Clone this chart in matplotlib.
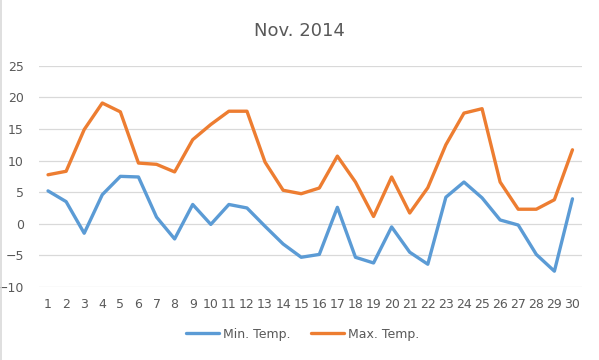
import matplotlib.pyplot as plt
from matplotlib.lines import Line2D

days = list(range(1, 31))
min_temp = [5.2, 3.5, -1.5, 4.6, 7.5, 7.4, 1.05, -2.4, 3.05, -0.1,
            3.05, 2.5, -0.4, -3.2, -5.3, -4.85, 2.6, -5.3, -6.2, -0.5,
            -4.5, -6.4, 4.2, 6.6, 4.1, 0.6, -0.2, -4.85, -7.5, 3.95]
max_temp = [7.75, 8.3, 14.9, 19.1, 17.7, 9.6, 9.4, 8.2, 13.3, 15.7,
            17.8, 17.8, 9.75, 5.3, 4.75, 5.65, 10.7, 6.6, 1.15, 7.4,
            1.7, 5.7, 12.5, 17.5, 18.2, 6.6, 2.3, 2.3, 3.8, 11.7]
y_ticks = [-10, -5, 0, 5, 10, 15, 20, 25]

grey = "#595959"

fig = plt.figure(figsize=(5.99, 3.6), dpi=100)
ax = fig.add_axes([0.0651, 0.2028, 0.9057, 0.6147])

ax.plot(days, min_temp, color="#5B9BD5", linewidth=2.4, label="Min. Temp.",
        solid_joinstyle="round", solid_capstyle="round")
ax.plot(days, max_temp, color="#ED7D31", linewidth=2.4, label="Max. Temp.",
        solid_joinstyle="round", solid_capstyle="round")

ax.set_xlim(0.5, 30.5)
ax.set_ylim(-10, 25)
ax.set_yticks(y_ticks)
ax.set_xticks(days)
ax.set_xticklabels([str(d) for d in days])
ax.grid(axis="y", color="#D9D9D9", linewidth=0.9)
ax.set_axisbelow(True)
for s in ax.spines.values():
    s.set_visible(False)
ax.tick_params(length=0, labelsize=9, labelcolor=grey)
ax.tick_params(axis="y", pad=11)
ax.tick_params(axis="x", pad=8)

fig.suptitle("Nov. 2014", x=0.5, y=0.94, fontsize=13, color=grey)

fig.legend(loc="center", bbox_to_anchor=(0.505, 0.072), ncol=2, frameon=False,
           fontsize=9, labelcolor=grey, handlelength=2.7, columnspacing=1.6,
           handletextpad=0.3)

fig.add_artist(Line2D([0.001, 0.001], [0, 1], color="#D9D9D9", linewidth=1.2))

fig.savefig("out.png", dpi=100)
